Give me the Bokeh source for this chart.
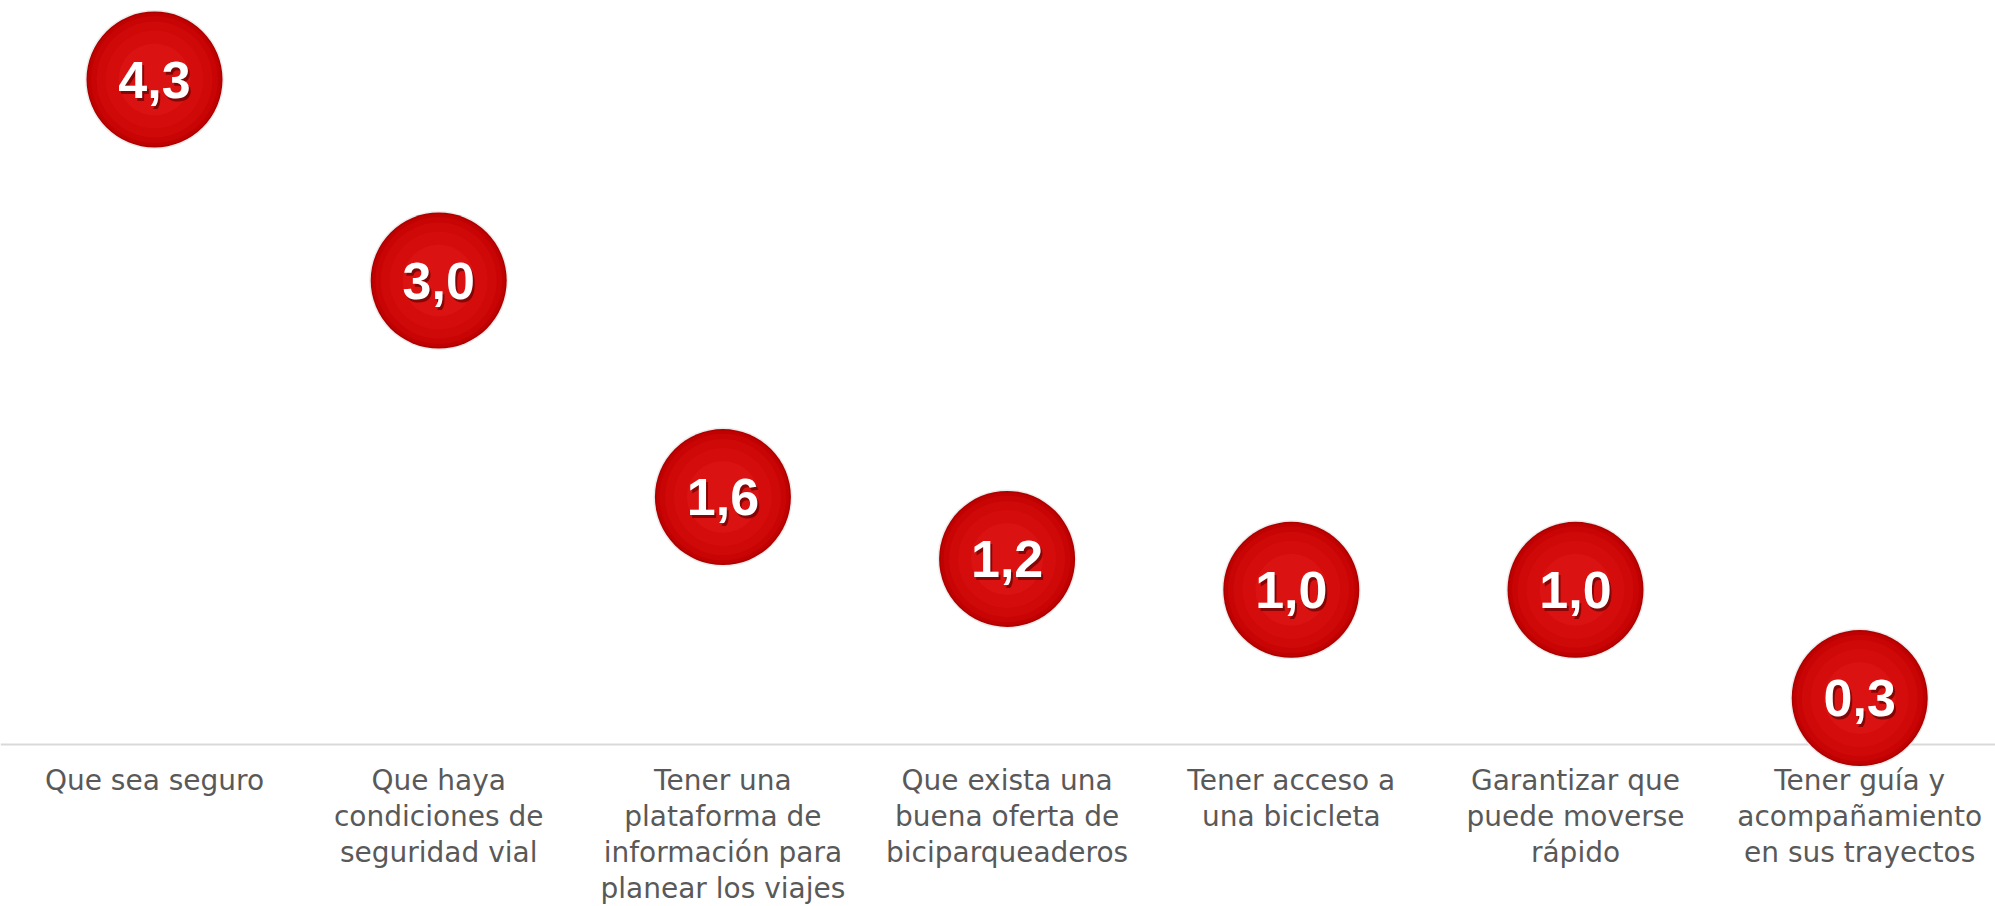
from bokeh.plotting import figure
from bokeh.models import ColumnDataSource, Range1d, Span
from bokeh.core.properties import value
from bokeh.embed import file_html
from bokeh.resources import INLINE

categories = [
    "Que sea seguro",
    "Que haya\ncondiciones de\nseguridad vial",
    "Tener una\nplataforma de\ninformación para\nplanear los viajes",
    "Que exista una\nbuena oferta de\nbiciparqueaderos",
    "Tener acceso a\nuna bicicleta",
    "Garantizar que\npuede moverse\nrápido",
    "Tener guía y\nacompañamiento\nen sus trayectos",
]
values = [4.3, 3.0, 1.6, 1.2, 1.0, 1.0, 0.3]
labels = [f"{v:.1f}".replace(".", ",") for v in values]
positions = list(range(len(categories)))
baseline = [0] * len(categories)

src = ColumnDataSource(dict(x=positions, y=values, lab=labels))
cat_src = ColumnDataSource(dict(x=positions, y=baseline, cat=categories))

p = figure(width=1995, height=906, output_backend="svg", toolbar_location=None,
           x_range=Range1d(-0.5419, 6.4778), y_range=Range1d(-1.0475, 4.811),
           min_border_left=0, min_border_right=0, min_border_top=0, min_border_bottom=0)
p.xaxis.visible = False
p.yaxis.visible = False
p.xgrid.visible = False
p.ygrid.visible = False
p.outline_line_color = None
p.background_fill_color = "white"
p.border_fill_color = "white"

axis_line = Span(location=0, dimension="width", line_color="#d9d9d9", line_width=2, level="underlay")
p.add_layout(axis_line)

# ball with layered shading
layers = [(139, "#ececec"), (136, "#ad0000"), (133, "#bf0101"), (127, "#c80404"),
          (116, "#cf0808"), (98, "#d50c0c"), (72, "#da1212")]
for size, col in layers:
    p.scatter("x", "y", source=src, size=size, marker="circle",
              fill_color=col, line_color=None)

# value labels with shadow
p.text("x", "y", text="lab", source=src, x_offset=2, y_offset=3,
       text_font=value("Liberation Sans"), text_font_style="bold",
       text_font_size="52px", text_color="#4a0000", text_alpha=0.6,
       text_align="center", text_baseline="middle")
p.text("x", "y", text="lab", source=src,
       text_font=value("Liberation Sans"), text_font_style="bold",
       text_font_size="52px", text_color="white",
       text_align="center", text_baseline="middle")

# category labels
p.text("x", "y", text="cat", source=cat_src, y_offset=19,
       text_font=value("DejaVu Sans"), text_font_size="28px",
       text_color="#595959", text_align="center", text_baseline="top",
       text_line_height=1.1)

open("out.html", "w").write(file_html(p, INLINE))
